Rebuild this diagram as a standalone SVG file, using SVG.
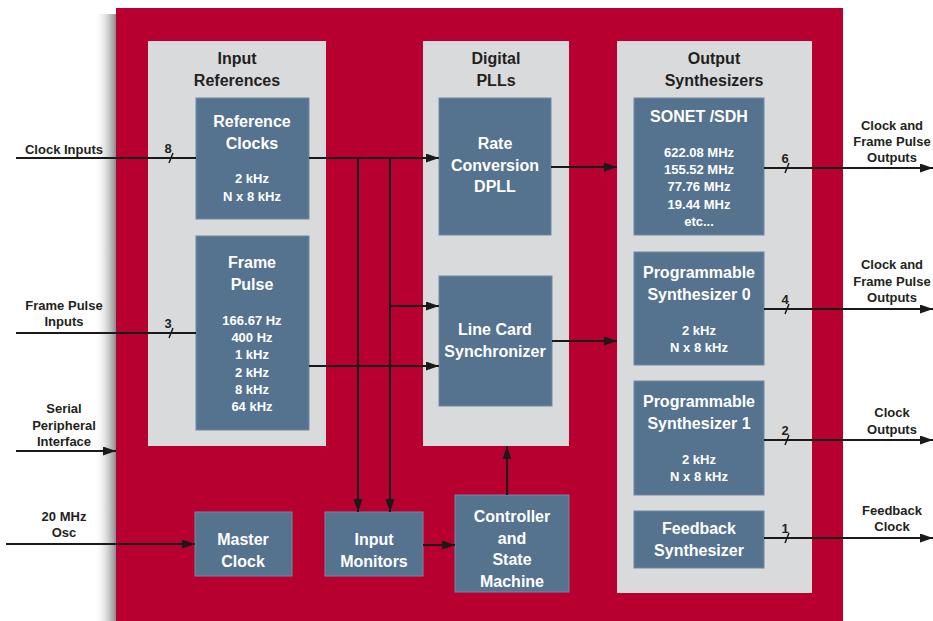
<svg xmlns="http://www.w3.org/2000/svg" width="933" height="621" viewBox="0 0 933 621">
<style>
.panel{fill:#D9DADC}
.blk{fill:#55728F;stroke:#7189A2;stroke-width:1}
.t{font-family:"Liberation Sans",Arial,sans-serif;font-weight:bold;text-anchor:middle}
.pt{font-size:16px;fill:#231F20}
.bt{font-size:16px;fill:#FFFFFF}
.bs{font-size:13px;fill:#FFFFFF}
.el{font-size:13px;fill:#231F20}
.w{stroke:#1A1A1A;stroke-width:2;fill:none}
.a{marker-end:url(#arr)}
.sl{stroke:#1A1A1A;stroke-width:1.5}
</style>
<defs>
<marker id="arr" markerUnits="userSpaceOnUse" markerWidth="13" markerHeight="9" refX="13" refY="4.5" orient="auto">
<path d="M0,0 L13,4.5 L0,9 z" fill="#1A1A1A"/>
</marker>
<linearGradient id="sh" x1="0" y1="0" x2="1" y2="0">
<stop offset="0" stop-color="#FFFFFF" stop-opacity="0"/>
<stop offset="1" stop-color="#8A8A8A"/>
</linearGradient>
</defs>
<rect width="933" height="621" fill="#FFFFFF"/>
<rect x="94" y="14" width="22" height="607" fill="url(#sh)"/>
<rect id="chip" x="116" y="8" width="727" height="620" fill="#B80030"/>

<g id="panel-input">
<rect class="panel" x="148" y="41" width="178" height="405"/>
<text class="t pt" x="237" y="64">Input</text>
<text class="t pt" x="237" y="86">References</text>
</g>
<g id="panel-dpll">
<rect class="panel" x="423" y="41" width="146" height="405"/>
<text class="t pt" x="496" y="64">Digital</text>
<text class="t pt" x="496" y="86">PLLs</text>
</g>
<g id="panel-output">
<rect class="panel" x="617" y="41" width="195" height="552"/>
<text class="t pt" x="714" y="64">Output</text>
<text class="t pt" x="714" y="86">Synthesizers</text>
</g>

<g id="ref-clocks">
<rect class="blk" x="196" y="98" width="113" height="121"/>
<text class="t bt" x="252" y="127">Reference</text>
<text class="t bt" x="252" y="149">Clocks</text>
<text class="t bs" x="252" y="183">2 kHz</text>
<text class="t bs" x="252" y="201">N x 8 kHz</text>
</g>
<g id="frame-pulse">
<rect class="blk" x="196" y="236" width="113" height="194"/>
<text class="t bt" x="252" y="268">Frame</text>
<text class="t bt" x="252" y="290">Pulse</text>
<text class="t bs" x="252" y="325">166.67 Hz</text>
<text class="t bs" x="252" y="342">400 Hz</text>
<text class="t bs" x="252" y="359">1 kHz</text>
<text class="t bs" x="252" y="377">2 kHz</text>
<text class="t bs" x="252" y="394">8 kHz</text>
<text class="t bs" x="252" y="411">64 kHz</text>
</g>
<g id="rate-conv">
<rect class="blk" x="439" y="98" width="112" height="137"/>
<text class="t bt" x="495" y="149">Rate</text>
<text class="t bt" x="495" y="171">Conversion</text>
<text class="t bt" x="495" y="192">DPLL</text>
</g>
<g id="line-card">
<rect class="blk" x="439" y="276" width="113" height="130"/>
<text class="t bt" x="495" y="335">Line Card</text>
<text class="t bt" x="495" y="357">Synchronizer</text>
</g>
<g id="sonet">
<rect class="blk" x="634" y="98" width="130" height="137"/>
<text class="t bt" x="699" y="122">SONET /SDH</text>
<text class="t bs" x="699" y="157">622.08 MHz</text>
<text class="t bs" x="699" y="174">155.52 MHz</text>
<text class="t bs" x="699" y="191">77.76 MHz</text>
<text class="t bs" x="699" y="209">19.44 MHz</text>
<text class="t bs" x="699" y="226">etc...</text>
</g>
<g id="prog0">
<rect class="blk" x="634" y="252" width="130" height="113"/>
<text class="t bt" x="699" y="278">Programmable</text>
<text class="t bt" x="699" y="300">Synthesizer 0</text>
<text class="t bs" x="699" y="335">2 kHz</text>
<text class="t bs" x="699" y="352">N x 8 kHz</text>
</g>
<g id="prog1">
<rect class="blk" x="634" y="381" width="130" height="114"/>
<text class="t bt" x="699" y="407">Programmable</text>
<text class="t bt" x="699" y="429">Synthesizer 1</text>
<text class="t bs" x="699" y="464">2 kHz</text>
<text class="t bs" x="699" y="481">N x 8 kHz</text>
</g>
<g id="feedback">
<rect class="blk" x="634" y="511" width="130" height="57"/>
<text class="t bt" x="699" y="534">Feedback</text>
<text class="t bt" x="699" y="556">Synthesizer</text>
</g>
<g id="master-clock">
<rect class="blk" x="195" y="512" width="97" height="64"/>
<text class="t bt" x="243" y="545">Master</text>
<text class="t bt" x="243" y="567">Clock</text>
</g>
<g id="input-monitors">
<rect class="blk" x="325" y="512" width="98" height="64"/>
<text class="t bt" x="374" y="545">Input</text>
<text class="t bt" x="374" y="567">Monitors</text>
</g>
<g id="controller">
<rect class="blk" x="455" y="495" width="114" height="97"/>
<text class="t bt" x="512" y="522">Controller</text>
<text class="t bt" x="512" y="544">and</text>
<text class="t bt" x="512" y="565">State</text>
<text class="t bt" x="512" y="587">Machine</text>
</g>

<g id="connectors">
<path class="w" d="M16,158 H196"/>
<path class="w" d="M16,333 H196"/>
<path class="w a" d="M16,451 H116"/>
<path class="w a" d="M6,544 H195"/>
<path class="w a" d="M309,158 H439"/>
<path class="w a" d="M358,158 V512"/>
<path class="w a" d="M390,158 V512"/>
<path class="w a" d="M390,306 H439"/>
<path class="w a" d="M309,366 H439"/>
<path class="w a" d="M551,167 H617"/>
<path class="w a" d="M552,341 H617"/>
<path class="w a" d="M507,495 V446"/>
<path class="w a" d="M423,545 H455"/>
<path class="w a" d="M764,168 H933"/>
<path class="w a" d="M764,309 H933"/>
<path class="w a" d="M764,440 H933"/>
<path class="w a" d="M764,538 H933"/>
<line class="sl" x1="169" y1="163" x2="173" y2="153"/>
<line class="sl" x1="169" y1="338" x2="173" y2="328"/>
<line class="sl" x1="785" y1="173" x2="789" y2="163"/>
<line class="sl" x1="785" y1="314" x2="789" y2="304"/>
<line class="sl" x1="785" y1="445" x2="789" y2="435"/>
<line class="sl" x1="785" y1="543" x2="789" y2="533"/>
<text class="t el" x="168" y="153">8</text>
<text class="t el" x="168" y="328">3</text>
<text class="t el" x="785" y="163">6</text>
<text class="t el" x="785" y="304">4</text>
<text class="t el" x="785" y="435">2</text>
<text class="t el" x="785" y="533">1</text>
<text class="t el" x="64" y="154">Clock Inputs</text>
<text class="t el" x="64" y="310">Frame Pulse</text>
<text class="t el" x="64" y="326">Inputs</text>
<text class="t el" x="64" y="413">Serial</text>
<text class="t el" x="64" y="430">Peripheral</text>
<text class="t el" x="64" y="446">Interface</text>
<text class="t el" x="64" y="521">20 MHz</text>
<text class="t el" x="64" y="537">Osc</text>
<text class="t el" x="892" y="130">Clock and</text>
<text class="t el" x="892" y="146">Frame Pulse</text>
<text class="t el" x="892" y="162">Outputs</text>
<text class="t el" x="892" y="269">Clock and</text>
<text class="t el" x="892" y="286">Frame Pulse</text>
<text class="t el" x="892" y="302">Outputs</text>
<text class="t el" x="892" y="417">Clock</text>
<text class="t el" x="892" y="434">Outputs</text>
<text class="t el" x="892" y="515">Feedback</text>
<text class="t el" x="892" y="531">Clock</text>
</g>
</svg>
